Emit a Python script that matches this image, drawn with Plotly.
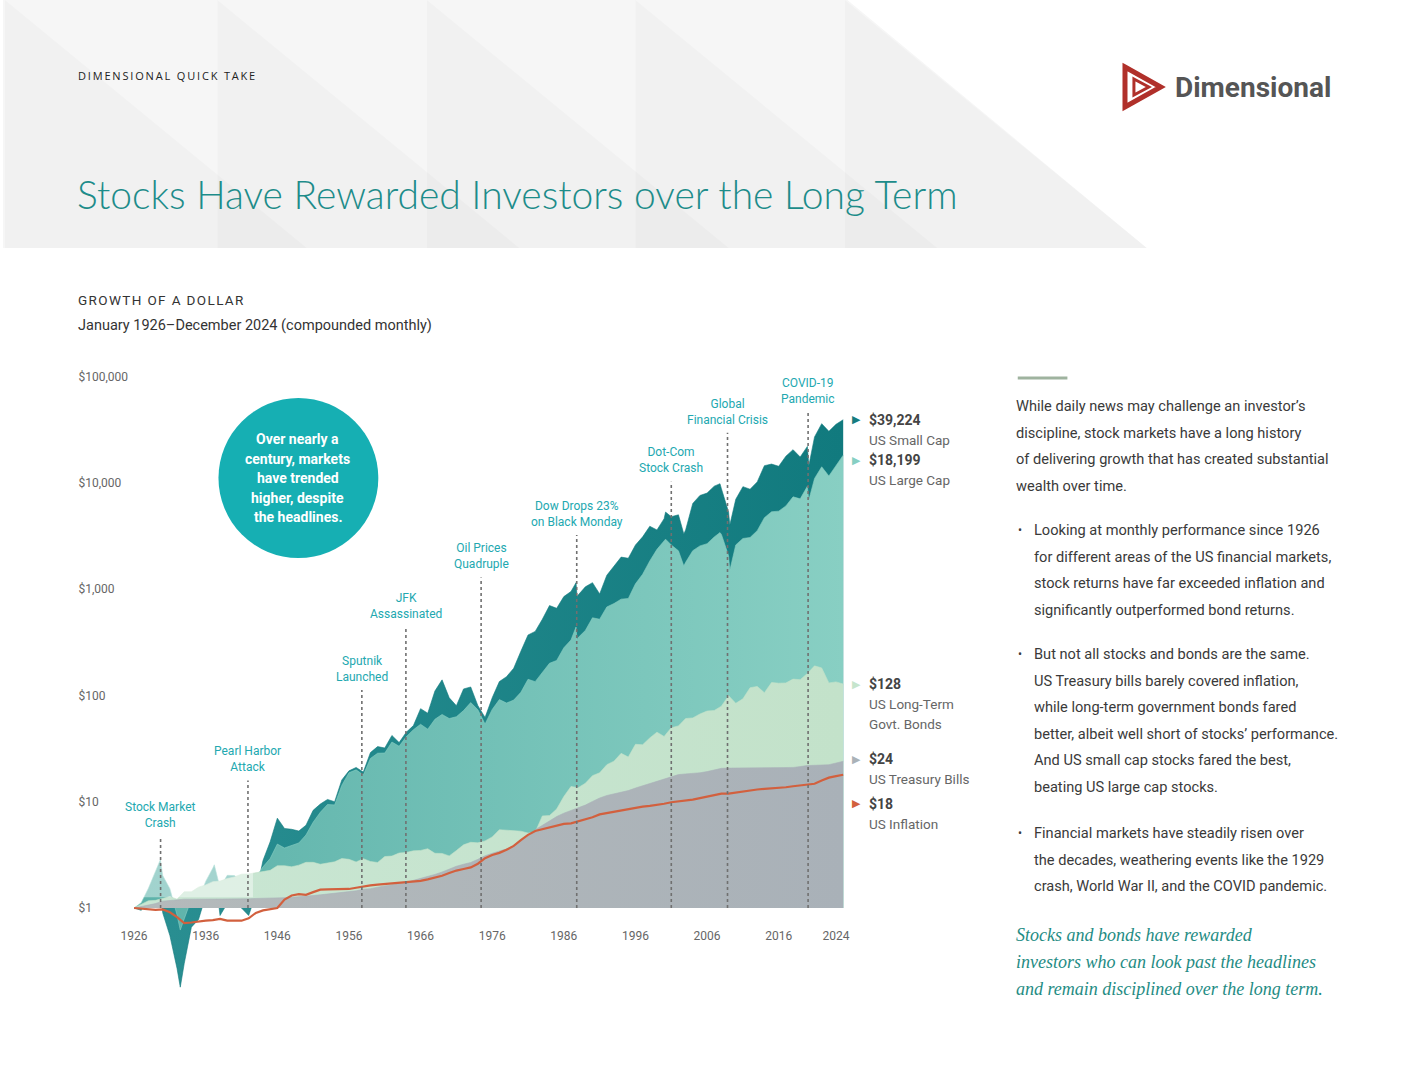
import numpy as np
import plotly.graph_objects as go

W, H = 1408, 1088

# ---------------- data (growth of $1) ----------------
annual_dates = list(range(1926, 2026))  # Jan 1926 start, then each December 1926..2024

stock_dates = [1926, 1927, 1928, 1929, 1929.67, 1930, 1931, 1932, 1932.45, 1933, 1934, 1935,
               1936, 1937, 1937.2, 1938, 1939, 1940, 1941, 1942, 1943, 1944, 1945, 1946,
               1947, 1948, 1949, 1950, 1951, 1952, 1953, 1954, 1955, 1956, 1957, 1958,
               1959, 1960, 1961, 1962, 1963, 1964, 1965, 1966, 1967, 1968, 1969, 1970,
               1971, 1972, 1973, 1974, 1975, 1976, 1977, 1978, 1979, 1980, 1981, 1982,
               1983, 1984, 1985, 1986, 1987, 1987.7, 1987.85, 1988, 1989, 1990, 1991, 1992,
               1993, 1994, 1995, 1996, 1997, 1998, 1999, 2000, 2000.2, 2001, 2002, 2002.75,
               2003, 2004, 2005, 2006, 2007, 2007.8, 2008, 2009, 2009.17, 2010, 2011, 2012,
               2013, 2014, 2015, 2016, 2017, 2018, 2019, 2020, 2020.2, 2021, 2022, 2023,
               2024, 2025]

us_small_cap = [1.00, 0.95, 1.20, 1.75, 1.45, 0.90, 0.55, 0.27, 0.18, 0.30, 0.66, 0.78,
                1.30, 2.20, 2.40, 0.85, 1.10, 1.10, 1.00, 0.85, 1.35, 2.80, 4.20, 7.00,
                5.60, 5.50, 5.30, 6.00, 8.30, 9.50, 10.5, 10.0, 16.0, 19.5, 21.0, 19.0,
                29.0, 33.0, 32.0, 42.0, 36.0, 45.0, 52.0, 75.0, 68.0, 110, 140, 95,
                80, 115, 120, 80, 62, 95, 135, 150, 180, 260, 370, 400,
                520, 700, 660, 850, 950, 1150, 850, 880, 1050, 1150, 900, 1350,
                1650, 2000, 1950, 2600, 3100, 3900, 3600, 4600, 5300, 4800, 5000, 3300,
                3600, 6400, 7600, 8000, 9300, 9800, 8800, 5300, 4000, 7000, 9200, 8700,
                10200, 14500, 15000, 14300, 17800, 20500, 17500, 22000, 14500, 27000, 36000, 30500,
                35500, 39224]

us_large_cap = [1.00, 1.12, 1.53, 2.20, 2.85, 2.02, 1.52, 0.86, 0.62, 0.79, 1.21, 1.20,
                1.78, 2.38, 2.55, 1.55, 2.03, 2.02, 1.82, 1.61, 1.94, 2.44, 2.92, 3.99,
                3.67, 3.88, 4.09, 4.86, 6.41, 7.95, 9.41, 9.32, 14.23, 18.72, 19.95, 17.80,
                25.52, 28.57, 28.70, 36.41, 33.24, 40.82, 47.54, 53.46, 48.08, 59.60, 66.19, 60.56,
                62.98, 71.99, 85.65, 73.09, 53.75, 73.74, 91.31, 84.76, 90.32, 106.97, 141.69, 134.74,
                163.63, 200.52, 213.06, 280.56, 332.51, 440, 330, 349.95, 408.02, 537.28, 520.59, 679.26,
                730.99, 804.76, 815.41, 1121.9, 1379.6, 1839.8, 2365.4, 2863.1, 2950, 2602.5, 2293.1, 1650,
                1786.3, 2298.7, 2548.9, 2674.0, 3096.3, 3400, 3266.5, 2058.0, 1500, 2602.5, 2994.5, 3057.8,
                3547.5, 4696.6, 5339.4, 5413.3, 6060.6, 7383.8, 7060.0, 9283.0, 6900, 10991, 14146, 11584,
                14629, 18199]

us_lt_govt_bonds = [1.00, 1.08, 1.17, 1.18, 1.22, 1.28, 1.21, 1.42, 1.42, 1.57,
                    1.65, 1.77, 1.79, 1.89, 1.96, 2.08, 2.09, 2.15, 2.20, 2.26,
                    2.50, 2.50, 2.44, 2.53, 2.69, 2.69, 2.58, 2.63, 2.72, 2.92,
                    2.87, 2.71, 2.91, 2.74, 2.68, 3.05, 3.08, 3.29, 3.33, 3.45,
                    3.48, 3.61, 3.27, 3.26, 3.09, 3.47, 3.93, 4.15, 4.10, 4.28,
                    4.66, 5.45, 5.41, 5.35, 5.28, 5.07, 5.17, 7.35, 7.40, 8.53,
                    11.18, 13.92, 13.55, 14.89, 17.59, 18.68, 22.29, 24.08, 28.49, 26.31,
                    34.65, 34.36, 39.81, 45.06, 41.10, 49.62, 51.66, 60.57, 61.40, 66.83,
                    71.25, 72.08, 79.24, 99.43, 84.23, 92.80, 118.0, 121.5, 106.0, 132.2,
                    130.3, 131.0, 142.3, 140.6, 160.6, 189.6, 181.4, 131.0, 134.0, 128.0]

us_treasury_bills = [1.00, 1.03, 1.07, 1.10, 1.16, 1.18, 1.20, 1.21, 1.21, 1.21,
                     1.21, 1.22, 1.22, 1.22, 1.22, 1.22, 1.22, 1.23, 1.23, 1.24,
                     1.25, 1.25, 1.26, 1.27, 1.29, 1.31, 1.33, 1.35, 1.38, 1.39,
                     1.41, 1.45, 1.50, 1.52, 1.57, 1.61, 1.65, 1.70, 1.75, 1.82,
                     1.89, 1.98, 2.07, 2.18, 2.32, 2.47, 2.58, 2.68, 2.87, 3.10,
                     3.27, 3.43, 3.60, 3.86, 4.25, 4.72, 5.45, 6.03, 6.58, 7.25,
                     7.80, 8.28, 8.73, 9.29, 10.06, 10.83, 11.44, 11.84, 12.19, 12.72,
                     13.45, 14.14, 14.87, 15.59, 16.33, 17.29, 17.98, 18.27, 18.46, 18.71,
                     19.2, 20.0, 20.6, 20.7, 20.7, 20.7, 20.7, 20.7, 20.7, 20.7,
                     20.7, 20.8, 21.0, 21.4, 21.9, 22.0, 22.0, 22.3, 23.1, 24.0]

us_inflation = [1.00, 0.99, 0.97, 0.96, 0.97, 0.91, 0.82, 0.72, 0.73, 0.75,
                0.76, 0.77, 0.79, 0.76, 0.76, 0.76, 0.80, 0.90, 0.95, 0.97,
                1.00, 1.20, 1.31, 1.35, 1.33, 1.41, 1.49, 1.50, 1.51, 1.50,
                1.51, 1.55, 1.60, 1.63, 1.66, 1.68, 1.69, 1.71, 1.74, 1.76,
                1.80, 1.86, 1.92, 2.01, 2.13, 2.25, 2.33, 2.41, 2.61, 2.94,
                3.15, 3.30, 3.53, 3.84, 4.35, 4.88, 5.31, 5.52, 5.74, 5.97,
                6.19, 6.26, 6.53, 6.82, 7.14, 7.59, 7.82, 8.06, 8.27, 8.50,
                8.71, 9.00, 9.15, 9.30, 9.56, 9.88, 10.03, 10.26, 10.46, 10.80,
                11.17, 11.46, 11.93, 11.93, 12.24, 12.43, 12.80, 13.02, 13.21, 13.30,
                13.40, 13.68, 13.98, 14.24, 14.57, 14.76, 15.82, 16.85, 17.41, 17.92]

series_names = ["US Small Cap", "US Large Cap", "US Long-Term<br>Govt. Bonds", "US Treasury Bills", "US Inflation"]

x_tick_years = [1926, 1936, 1946, 1956, 1966, 1976, 1986, 1996, 2006, 2016, 2024]
y_tick_values = [1, 10, 100, 1000, 10000, 100000]
y_tick_labels = ["$1", "$10", "$100", "$1,000", "$10,000", "$100,000"]

event_labels = ["Stock Market<br>Crash", "Pearl Harbor<br>Attack", "Sputnik<br>Launched",
                "JFK<br>Assassinated", "Oil Prices<br>Quadruple", "Dow Drops 23%<br>on Black Monday",
                "Dot-Com<br>Stock Crash", "Global<br>Financial Crisis", "COVID-19<br>Pandemic"]
event_dates = [1929.7, 1941.9, 1957.8, 1963.95, 1974.45, 1987.8, 2001.0, 2008.85, 2020.1]

assert len(stock_dates) == len(us_small_cap) == len(us_large_cap)
assert len(annual_dates) == len(us_lt_govt_bonds) == len(us_treasury_bills) == len(us_inflation)

# ---------------- styling ----------------
SANS = "Roboto, sans-serif"
TITLE_FONT = "Lato, Roboto, sans-serif"
TEAL_TXT = "#22a8b0"
C_SMALL = "#157c80"
C_LARGE = "#80cabf"
C_BOND = "#c4e3cc"
C_BILL = "#adb4b9"
C_INFL = "#d2603e"


def px(x):
    return x / W


def py(y):
    return 1 - y / H


fig = go.Figure()

areas = [
    (stock_dates, us_small_cap, C_SMALL, [[0, "#2a8f92"], [1, "#117a7e"]]),
    (stock_dates, us_large_cap, C_LARGE, [[0, "#5db2aa"], [1, "#88cfc3"]]),
    (annual_dates, us_lt_govt_bonds, C_BOND, [[0, "#c9e6d3"], [1, "#c3e2ca"]]),
    (annual_dates, us_treasury_bills, C_BILL, [[0, "#b4babb"], [1, "#a9b1b8"]]),
]
for dates, vals, col, grad in areas:
    # $1 baseline that each area is filled to
    fig.add_trace(go.Scatter(x=[dates[0], dates[-1]], y=[1, 1], mode="lines",
                             line=dict(width=0, color=col), hoverinfo="skip", showlegend=False))
    fig.add_trace(go.Scatter(x=dates, y=vals, mode="lines", fill="tonexty",
                             line=dict(width=0.6, color=grad[1][1]),
                             fillgradient=dict(type="horizontal", colorscale=grad),
                             hoverinfo="skip", showlegend=False))

fig.add_trace(go.Scatter(x=annual_dates, y=us_inflation, mode="lines",
                         line=dict(width=2.2, color=C_INFL), hoverinfo="skip", showlegend=False))

shapes = []


def path(pts):
    return "M " + " L ".join(f"{px(a):.5f},{py(b):.5f}" for a, b in pts) + " Z"


# header background with triangle pattern
shapes.append(dict(type="path", xref="paper", yref="paper", layer="below",
                   path=path([(-2, -2), (846, -2), (1150, 248), (-2, 248)]),
                   fillcolor="#f6f6f6", line=dict(width=0)))
for xi in [0, 214, 425, 635, 846]:
    shapes.append(dict(type="path", xref="paper", yref="paper", layer="below",
                       path=path([(xi, 0), (xi + 304, 248), (xi, 248)]),
                       fillcolor="rgba(0,0,0,0.018)", line=dict(width=0)))

# fade over the early years (above the bills band)
shapes.append(dict(type="rect", xref="x", yref="y", layer="above",
                   x0=1926, x1=1942.6, y0=1.26, y1=4.0,
                   fillcolor="white", opacity=0.42, line=dict(width=0)))

# event dotted lines
event_label_bottom = [0.715, 1.24, 2.09, 2.68, 3.15, 3.55, 4.05, 4.51, 4.70]
for d, lb in zip(event_dates, event_label_bottom):
    shapes.append(dict(type="line", xref="x", yref="y", layer="above",
                       x0=d, x1=d, y0=1, y1=10 ** (lb - 0.04),
                       line=dict(color="#707070", width=1.6, dash="dot")))

# circle callout
shapes.append(dict(type="circle", xref="paper", yref="paper", layer="above",
                   x0=px(215), x1=px(376), y0=py(558), y1=py(398),
                   fillcolor="#16afb3", line=dict(width=0)))

# small rule on the right panel
shapes.append(dict(type="line", xref="paper", yref="paper",
                   x0=px(1020), x1=px(1070), y0=py(378), y1=py(378),
                   line=dict(color="#9fb39f", width=3)))

# logo icon
shapes.append(dict(type="path", xref="paper", yref="paper",
                   path=path([(1128, 67), (1164, 87), (1128, 107)]),
                   fillcolor="rgba(0,0,0,0)", line=dict(color="#b0302a", width=5)))
shapes.append(dict(type="path", xref="paper", yref="paper",
                   path=path([(1137, 79), (1152, 87), (1137, 95)]),
                   fillcolor="rgba(0,0,0,0)", line=dict(color="#b0302a", width=3)))

ann = []


def T(text, x, y, size, color, family=SANS, xanchor="left", yanchor="middle", align="left", weight=None):
    f = dict(size=size, color=color, family=family)
    if weight:
        f["weight"] = weight
    ann.append(dict(text=text, x=px(x), y=py(y), xref="paper", yref="paper",
                    xanchor=xanchor, yanchor=yanchor, align=align, showarrow=False, font=f))


hair = "\u200a"
thin = "\u2009"
T(thin.join("DIMENSIONAL QUICK TAKE"), 72, 75, 11, "#222", family="Open Sans, sans-serif")
T("<b>Dimensional</b>", 1176, 87, 28, "#555", family=SANS)
T("Stocks Have Rewarded Investors over the Long Term", 71, 194, 39, "#1d8c8a", family=TITLE_FONT, weight=300)
T(hair.join("GROWTH OF A DOLLAR"), 72, 300, 13.5, "#333")
T("January 1926\u2013December 2024 (compounded monthly)", 72, 326, 14.5, "#333")

# circle text
circle_lines = ["Over nearly a", "century, markets", "have trended", "higher, despite", "the headlines."]
for i, line in enumerate(circle_lines):
    T(f"<b>{line}</b>", 295, 439 + i * 19.5, 14, "white", xanchor="center", align="center")

# right panel text
body = "#3a3a3a"
BODY_SIZE = 14.6
para = ["While daily news may challenge an investor\u2019s", "discipline, stock markets have a long history",
        "of delivering growth that has created substantial", "wealth over time."]
for i, line in enumerate(para):
    T(line, 1016, 406 + i * 26.7, BODY_SIZE, body)
bullets = [
    (530, ["Looking at monthly performance since 1926", "for different areas of the US financial markets,",
           "stock returns have far exceeded inflation and", "significantly outperformed bond returns."]),
    (654, ["But not all stocks and bonds are the same.", "US Treasury bills barely covered inflation,",
           "while long-term government bonds fared", "better, albeit well short of stocks\u2019 performance.",
           "And US small cap stocks fared the best,", "beating US large cap stocks."]),
    (833, ["Financial markets have steadily risen over", "the decades, weathering events like the 1929",
           "crash, World War II, and the COVID pandemic."]),
]
for y0, lines in bullets:
    T("\u2022", 1018, y0, 12, body)
    for i, line in enumerate(lines):
        T(line, 1034, y0 + i * 26.5, BODY_SIZE, body)
closing = ["Stocks and bonds have rewarded", "investors who can look past the headlines",
           "and remain disciplined over the long term."]
for i, line in enumerate(closing):
    T(f"<i>{line}</i>", 1016, 935 + i * 27, 18, "#1f8c84", family="Liberation Serif, DejaVu Serif, serif")

# event labels (on the chart's axes)
for lab, d, lb in zip(event_labels, event_dates, event_label_bottom):
    ann.append(dict(text=lab, x=d, y=lb, xref="x", yref="y", xanchor="center", yanchor="bottom",
                    align="center", showarrow=False, font=dict(size=12, color=TEAL_TXT, family=SANS)))

# end-value labels
end_vals = [us_small_cap[-1], us_large_cap[-1], us_lt_govt_bonds[-1], us_treasury_bills[-1], us_inflation[-1]]
end_cols = [C_SMALL, "#86cfc3", "#c6e5cd", "#aab2b8", C_INFL]
label_shift = [0, -5, 0, 2, -29]
for v, nm, c, sh in zip(end_vals, series_names, end_cols, label_shift):
    L = float(np.log10(v))
    ann.append(dict(text="\u25B6", x=px(858), y=L, xref="paper", yref="y", xanchor="center", yanchor="middle",
                    yshift=sh, showarrow=False, font=dict(size=11, color=c, family="DejaVu Sans")))
    ann.append(dict(text=f"<b>${v:,.0f}</b>", x=px(868), y=L, xref="paper", yref="y", xanchor="left",
                    yanchor="middle", yshift=sh, showarrow=False,
                    font=dict(size=14, color="#444", family=SANS)))
    for j, part in enumerate(nm.split("<br>")):
        ann.append(dict(text=part, x=px(868), y=L, xref="paper", yref="y", xanchor="left",
                        yanchor="middle", yshift=sh - 20 - 20 * j, showarrow=False,
                        font=dict(size=13.5, color="#666", family=SANS)))

x_lo = 1926 - 8 / 7.214
x_hi = 1926 + 716 / 7.214
y_top = (908 - 368) / 106.3
y_bot = -(995 - 908) / 106.3

fig.update_layout(
    width=W, height=H, margin=dict(l=0, r=0, t=0, b=0),
    paper_bgcolor="white", plot_bgcolor="rgba(0,0,0,0)",
    showlegend=False, shapes=shapes, annotations=ann,
    xaxis=dict(domain=[px(122), px(846)], range=[x_lo, x_hi], showgrid=False, zeroline=False,
               showline=False, ticks="", tickvals=x_tick_years, ticktext=[str(t) for t in x_tick_years],
               tickfont=dict(size=12, color="#666", family=SANS),
               anchor="free", position=py(927)),
    yaxis=dict(type="log", domain=[py(995), py(368)], range=[y_bot, y_top], showgrid=False,
               zeroline=False, showline=False, ticks="", tickvals=y_tick_values, ticktext=y_tick_labels,
               tickfont=dict(size=12, color="#666", family=SANS),
               anchor="free", position=px(70), ticklabelposition="inside"),
)

fig.write_html("out.html")
